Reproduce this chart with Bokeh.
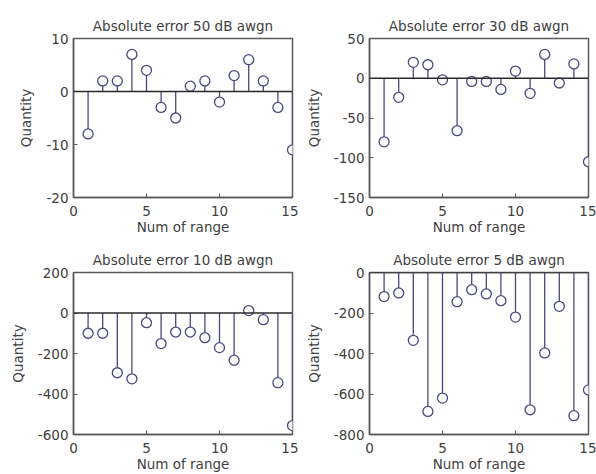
from bokeh.plotting import figure
from bokeh.layouts import gridplot
from bokeh.models import FixedTicker, Span, Range1d
from bokeh.embed import file_html
from bokeh.resources import INLINE

x_range_idx = list(range(1, 16))
x_ticks = [0, 5, 10, 15]

titles = ["Absolute error 50 dB awgn", "Absolute error 30 dB awgn",
          "Absolute error 10 dB awgn", "Absolute error 5 dB awgn"]

err_50 = [-8, 2, 2, 7, 4, -3, -5, 1, 2, -2, 3, 6, 2, -3, -11]
err_30 = [-80, -24, 20, 17, -2, -66, -4, -4, -14, 9, -19, 30, -6, 18, -105]
err_10 = [-100, -100, -295, -325, -48, -151, -94, -94, -122, -171, -233, 12, -33, -344, -556]
err_5 = [-119, -101, -335, -686, -620, -144, -85, -106, -139, -220, -678, -397, -167, -707, -580]

y_ticks_50 = [-20, -10, 0, 10]
y_ticks_30 = [-150, -100, -50, 0, 50]
y_ticks_10 = [-600, -400, -200, 0, 200]
y_ticks_5 = [-800, -600, -400, -200, 0]

FONT = "DejaVu Sans"
STEM = "#48487f"
TXT = "#404040"
FRAME = "#5a5a5a"


def style_axis(ax):
    ax.axis_line_color = FRAME
    ax.axis_line_width = 1.5
    ax.major_tick_in = 4
    ax.major_tick_out = 0
    ax.major_tick_line_color = FRAME
    ax.minor_tick_line_color = None
    ax.major_label_text_font = FONT
    ax.major_label_text_font_size = "13.5px"
    ax.major_label_text_color = TXT
    ax.axis_label_text_font = FONT
    ax.axis_label_text_font_size = "13.5px"
    ax.axis_label_text_font_style = "normal"
    ax.axis_label_text_color = TXT


def make(title, vals, yticks, borders):
    left, right, top, bottom = borders
    p = figure(width=298, height=237, output_backend="svg", toolbar_location=None,
               x_range=Range1d(0, 15), y_range=Range1d(yticks[0], yticks[-1]),
               min_border_left=left, min_border_right=right,
               min_border_top=top, min_border_bottom=bottom,
               background_fill_color="white", border_fill_color="white")
    p.title.text = title
    p.title.align = "center"
    p.title.text_font = FONT
    p.title.text_font_size = "13.5px"
    p.title.text_font_style = "normal"
    p.title.text_color = TXT
    p.title.standoff = 10
    p.xgrid.visible = False
    p.ygrid.visible = False
    p.outline_line_color = FRAME
    p.outline_line_width = 1.5
    p.outline_line_alpha = 1
    p.xaxis.ticker = FixedTicker(ticks=x_ticks)
    p.yaxis.ticker = FixedTicker(ticks=yticks)
    p.yaxis.major_label_overrides = {t: str(t) for t in yticks}
    p.xaxis.axis_label = "Num of range"
    p.yaxis.axis_label = "Quantity"
    style_axis(p.xaxis[0])
    style_axis(p.yaxis[0])
    p.xaxis.major_label_standoff = 8
    p.xaxis.axis_label_standoff = 0
    p.yaxis.major_label_standoff = 5
    p.yaxis.axis_label_standoff = 9
    p.add_layout(Span(location=0, dimension="width", line_color="#2a2a2a", line_width=1.5))
    p.segment(x0=x_range_idx, y0=[0] * len(vals), x1=x_range_idx, y1=vals,
              line_color=STEM, line_width=1.3)
    p.scatter(x=x_range_idx, y=vals, marker="circle", size=10,
              fill_color="white", line_color=STEM, line_width=1.3)
    return p


p1 = make(titles[0], err_50, y_ticks_50, (73, 6, 38, 35))
p2 = make(titles[1], err_30, y_ticks_30, (71, 8, 38, 35))
p3 = make(titles[2], err_10, y_ticks_10, (73, 6, 35, 38))
p4 = make(titles[3], err_5, y_ticks_5, (71, 8, 35, 38))

grid = gridplot([[p1, p2], [p3, p4]], toolbar_location=None)

open("out.html", "w").write(file_html(grid, INLINE))
